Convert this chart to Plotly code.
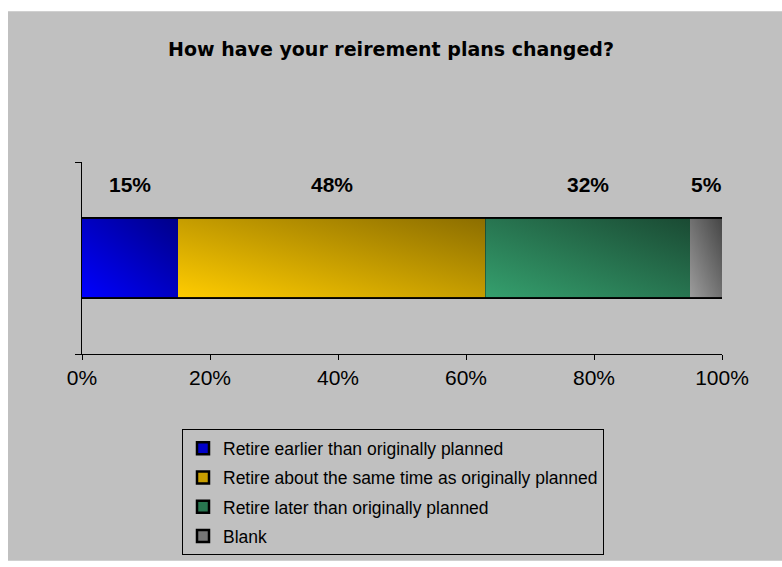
import base64
import plotly.graph_objects as go

# Survey answers and their shares (percent of respondents)
answers = [
    "Retire earlier than originally planned",
    "Retire about the same time as originally planned",
    "Retire later than originally planned",
    "Blank",
]
shares = [15, 48, 32, 5]
share_labels = ["15%", "48%", "32%", "5%"]

x_tick_values = [0, 20, 40, 60, 80, 100]
x_tick_labels = ["0%", "20%", "40%", "60%", "80%", "100%"]

# Solid colour per answer (legend keys) and light/dark ends of the bar shading
bar_colors = ["#0000C8", "#C89E00", "#287650", "#767676"]
shade_light = ["#0000FF", "#FFCC00", "#35A06E", "#9C9C9C"]
shade_dark = ["#000088", "#8C6E00", "#1A4A33", "#464646"]

FONT = "Liberation Sans, Arial, Helvetica, sans-serif"
W, H = 782, 567
ML, MR, MT, MB = 82, 60, 162, 209
PLOT_W = W - ML - MR
PLOT_H = H - MT - MB
BAR_WIDTH = 0.41
ROW = 0  # position of the single stacked row on the vertical axis


def diagonal_shade(light, dark):
    """SVG image holding a bottom-left (light) to top-right (dark) gradient."""
    svg = (
        '<svg xmlns="http://www.w3.org/2000/svg" width="100" height="100" '
        'viewBox="0 0 100 100" preserveAspectRatio="none">'
        '<defs><linearGradient id="g" x1="0" y1="1" x2="1" y2="0">'
        f'<stop offset="0" stop-color="{light}"/>'
        f'<stop offset="1" stop-color="{dark}"/>'
        '</linearGradient></defs>'
        '<rect width="100" height="100" fill="url(#g)"/></svg>'
    )
    return "data:image/svg+xml;base64," + base64.b64encode(svg.encode()).decode()


fig = go.Figure()
for name, share, color in zip(answers, shares, bar_colors):
    fig.add_trace(go.Bar(
        x=[share],
        y=[ROW],
        orientation="h",
        name=name,
        legendgroup=name,
        width=BAR_WIDTH,
        marker=dict(color=color, line=dict(color="black", width=2.5)),
        hovertemplate="%{x}%<extra>" + name + "</extra>",
    ))

# Percent labels above each segment, and the gradient shading of each segment
annotations = []
images = []
running = 0
for share, label, light, dark in zip(shares, share_labels, shade_light, shade_dark):
    annotations.append(dict(
        x=running + share / 2, y=ROW, xref="x", yref="y",
        text=label, showarrow=False, yshift=74,
        font=dict(family=FONT, size=21, color="black", weight="bold"),
    ))
    images.append(dict(
        source=diagonal_shade(light, dark),
        xref="x", yref="y",
        x=running, y=ROW + BAR_WIDTH / 2,
        sizex=share, sizey=BAR_WIDTH,
        xanchor="left", yanchor="top",
        sizing="stretch", layer="above",
    ))
    running += share

# Gray chart area with a thin white strip along the top and left edges
inset = 8
shapes = [dict(
    type="rect", xref="paper", yref="paper", layer="below",
    x0=-(ML - inset) / PLOT_W, x1=(W - ML) / PLOT_W + 0.01,
    y0=-MB / PLOT_H - 0.01, y1=(H - MB - inset) / PLOT_H,
    fillcolor="#C0C0C0", line=dict(width=0),
)]

fig.update_layout(
    width=W, height=H,
    margin=dict(l=ML, r=MR, t=MT, b=MB, pad=0),
    paper_bgcolor="white",
    plot_bgcolor="rgba(0,0,0,0)",
    barmode="stack",
    font=dict(family=FONT, color="black"),
    title=dict(
        text="How have your reirement plans changed?",
        x=0.5, xref="container", xanchor="center",
        y=1 - 49 / H, yref="container", yanchor="middle",
        font=dict(family="DejaVu Sans, " + FONT, size=19, color="black",
                  weight="bold"),
    ),
    xaxis=dict(
        range=[0, 100], tickvals=x_tick_values, ticktext=x_tick_labels,
        showline=True, linecolor="black", linewidth=1,
        ticks="outside", ticklen=5, tickcolor="black", tickwidth=1,
        showgrid=False, zeroline=False,
        tickfont=dict(family=FONT, size=21, color="black"),
        fixedrange=True,
    ),
    yaxis=dict(
        range=[ROW - 0.5, ROW + 0.5],
        tickvals=[ROW - 0.5, ROW + 0.5], showticklabels=False,
        showline=True, linecolor="black", linewidth=1,
        ticks="outside", ticklen=6, tickcolor="black", tickwidth=1,
        showgrid=False, zeroline=False,
        fixedrange=True,
    ),
    legend=dict(
        x=(182 - ML) / PLOT_W, xanchor="left",
        y=(H - MB - 435) / PLOT_H, yanchor="top",
        traceorder="grouped", tracegroupgap=3.5,
        bgcolor="rgba(0,0,0,0)", bordercolor="black", borderwidth=1,
        font=dict(family=FONT, size=17.5, color="black"),
    ),
    annotations=annotations,
    images=images,
    shapes=shapes,
    showlegend=True,
)

fig.write_html("out.html")
